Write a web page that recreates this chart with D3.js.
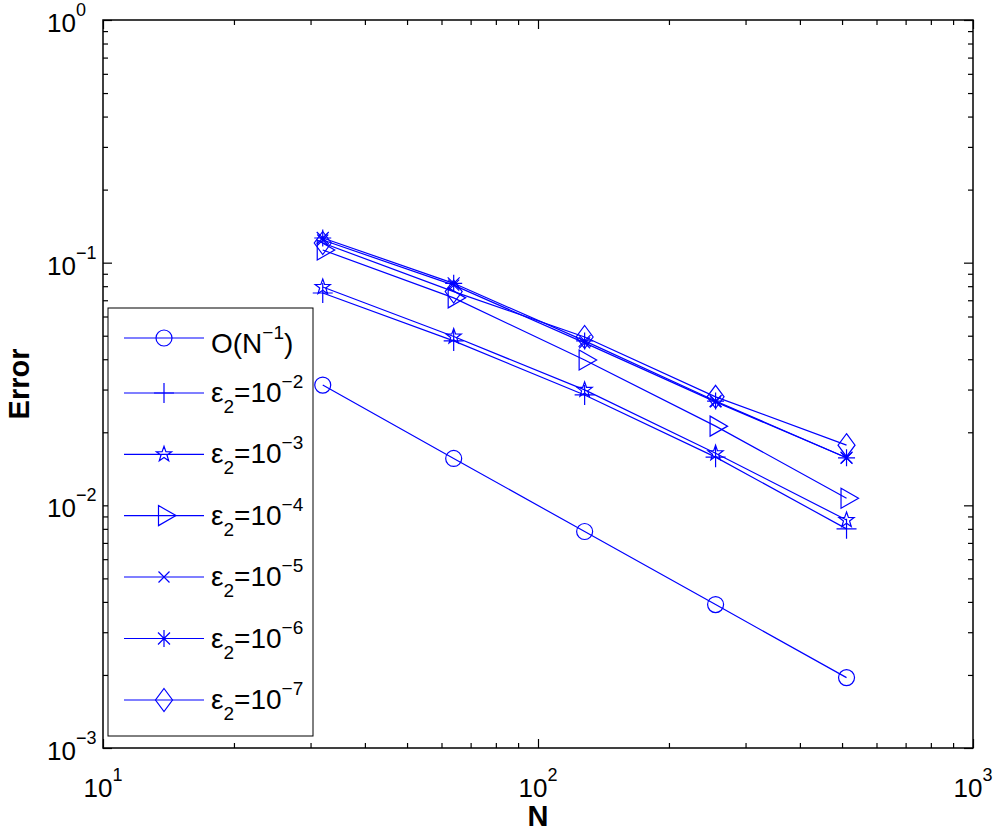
<!DOCTYPE html>
<html><head><meta charset="utf-8">
<script src="https://cdn.jsdelivr.net/npm/d3@7"></script>
<style>body{margin:0;background:#fff}svg{display:block}text{font-family:"Liberation Sans",Arial,Helvetica,sans-serif}</style>
</head><body>
<svg id="c" width="994" height="831"></svg>
<script>
// ---- data ----
const N = [32, 64, 128, 256, 512];
const orderRef = [0.0313, 0.0156, 0.0078, 0.0039, 0.00195];      // O(N^-1)
const eps2_1e2 = [0.0750, 0.0476, 0.0285, 0.0158, 0.0080];
const eps2_1e3 = [0.0794, 0.0496, 0.0299, 0.0164, 0.0087];
const eps2_1e4 = [0.1128, 0.0716, 0.0397, 0.0212, 0.0107];
const eps2_1e5 = [0.1240, 0.0808, 0.0467, 0.0267, 0.0157];
const eps2_1e6 = [0.1264, 0.0822, 0.0476, 0.0269, 0.0157];
const eps2_1e7 = [0.1205, 0.0760, 0.0494, 0.0280, 0.0177];
const seriesNames = ["O(N^-1)", "1e-2", "1e-3", "1e-4", "1e-5", "1e-6", "1e-7"];
const seriesExp = [null, "2", "3", "4", "5", "6", "7"];
const seriesMarkers = ["circle", "plus", "star", "triR", "x", "asterisk", "diamond"];
const seriesValues = [orderRef, eps2_1e2, eps2_1e3, eps2_1e4, eps2_1e5, eps2_1e6, eps2_1e7];
const xDecades = [10, 100, 1000];
const yDecades = [1e-3, 1e-2, 1e-1, 1];

// ---- layout ----
const L = 103, R = 973, T = 20, B = 748;
const blue = "#0000ff";
const svg = d3.select("#c");
const x = d3.scaleLog().domain([10, 1000]).range([L, R]);
const y = d3.scaleLog().domain([1e-3, 1]).range([B, T]);

function minorTicks(dec) {
  const out = [];
  for (let i = 0; i < dec.length - 1; i++) for (let k = 2; k <= 9; k++) out.push(dec[i] * k);
  return out;
}
const xMinor = minorTicks(xDecades), yMinor = minorTicks(yDecades);

function addAxis(gen, tx, ty, vals, size) {
  const g = svg.append("g").attr("transform", `translate(${tx},${ty})`)
    .call(gen.tickValues(vals).tickSizeInner(size).tickSizeOuter(0).tickFormat(""));
  g.select(".domain").remove();
  g.selectAll("line").attr("stroke", "#000").attr("stroke-width", 1.2);
}
// inward ticks on all four sides
addAxis(d3.axisBottom(x), 0, B, xMinor, -5);
addAxis(d3.axisBottom(x), 0, B, xDecades, -9);
addAxis(d3.axisTop(x), 0, T, xMinor, -5);
addAxis(d3.axisTop(x), 0, T, xDecades, -9);
addAxis(d3.axisLeft(y), L, 0, yMinor, -5);
addAxis(d3.axisLeft(y), L, 0, yDecades, -9);
addAxis(d3.axisRight(y), R, 0, yMinor, -5);
addAxis(d3.axisRight(y), R, 0, yDecades, -9);

svg.append("rect").attr("x", L).attr("y", T).attr("width", R - L).attr("height", B - T)
  .attr("fill", "none").attr("stroke", "#000").attr("stroke-width", 1.5);

// tick labels
const fs = 26, sfs = 18, lfs = 28, lsfs = 19, afs = 29;
function expOf(v) { return Math.round(Math.log10(v)); }
function supText(sel, exp) {
  sel.append("tspan").text("10");
  sel.append("tspan").attr("font-size", sfs).attr("dy", -16).text(exp < 0 ? "\u2212" + (-exp) : String(exp));
}
yDecades.forEach(v => {
  const t = svg.append("text").attr("x", 47).attr("y", y(v) + 12).attr("font-size", fs).attr("fill", "#000");
  supText(t, expOf(v));
});
xDecades.forEach(v => {
  const t = svg.append("text").attr("x", x(v)).attr("y", 797).attr("font-size", fs)
    .attr("text-anchor", "middle").attr("fill", "#000");
  supText(t, expOf(v));
});

svg.append("text").attr("x", x(100)).attr("y", 826).attr("text-anchor", "middle")
  .attr("font-size", afs).attr("font-weight", "bold").text("N");
svg.append("text").attr("transform", `translate(29,${(T + B) / 2}) rotate(-90)`)
  .attr("text-anchor", "middle").attr("font-size", afs).attr("font-weight", "bold").text("Error");

// markers
function markerPath(type) {
  const p = d3.path();
  switch (type) {
    case "circle": p.arc(0, 0, 8, 0, 2 * Math.PI); break;
    case "plus": p.moveTo(-10, 0); p.lineTo(10, 0); p.moveTo(0, -10); p.lineTo(0, 10); break;
    case "x": p.moveTo(-5.5, -5.5); p.lineTo(5.5, 5.5); p.moveTo(-5.5, 5.5); p.lineTo(5.5, -5.5); break;
    case "asterisk":
      p.moveTo(-8.5, 0); p.lineTo(8.5, 0); p.moveTo(0, -8.5); p.lineTo(0, 8.5);
      p.moveTo(-6, -6); p.lineTo(6, 6); p.moveTo(-6, 6); p.lineTo(6, -6); break;
    case "diamond": p.moveTo(0, -11.5); p.lineTo(8.5, 0); p.lineTo(0, 11.5); p.lineTo(-8.5, 0); p.closePath(); break;
    case "triR": p.moveTo(-5.5, -10); p.lineTo(12, 0); p.lineTo(-5.5, 10); p.closePath(); break;
    case "star": {
      const Ro = 8, Ri = 3.2;
      for (let i = 0; i < 10; i++) {
        const r = i % 2 === 0 ? Ro : Ri, a = -Math.PI / 2 + i * Math.PI / 5;
        const px = r * Math.cos(a), py = r * Math.sin(a);
        if (i === 0) p.moveTo(px, py); else p.lineTo(px, py);
      }
      p.closePath(); break;
    }
  }
  return p.toString();
}

const line = d3.line().x(d => x(d[0])).y(d => y(d[1]));
const plot = svg.append("g");
seriesValues.forEach((vals, i) => {
  const pts = N.map((n, j) => [n, vals[j]]);
  plot.append("path").attr("d", line(pts)).attr("fill", "none").attr("stroke", blue).attr("stroke-width", 1.2);
  plot.selectAll(null).data(pts).enter().append("path")
    .attr("transform", d => `translate(${x(d[0])},${y(d[1])})`)
    .attr("d", markerPath(seriesMarkers[i])).attr("fill", "none").attr("stroke", blue).attr("stroke-width", 1.2);
});

// legend
const lg = svg.append("g");
lg.append("rect").attr("x", 108).attr("y", 308).attr("width", 205).attr("height", 428)
  .attr("fill", "#fff").attr("stroke", "#000").attr("stroke-width", 1);
const rowY = [338, 393, 454.3, 515.6, 577, 638.5, 700];
seriesNames.forEach((nm, i) => {
  const yy = rowY[i];
  lg.append("line").attr("x1", 124).attr("x2", 204).attr("y1", yy).attr("y2", yy)
    .attr("stroke", blue).attr("stroke-width", 1.2);
  lg.append("path").attr("transform", `translate(164,${yy})`).attr("d", markerPath(seriesMarkers[i]))
    .attr("fill", "none").attr("stroke", blue).attr("stroke-width", 1.2);
  const t = lg.append("text").attr("x", 211).attr("font-size", lfs).attr("fill", "#000");
  if (i === 0) {
    t.attr("y", yy + 15);
    t.append("tspan").text("O(N");
    t.append("tspan").attr("font-size", lsfs).attr("dy", -14).text("\u22121");
    t.append("tspan").attr("dy", 14).text(")");
  } else {
    t.attr("y", yy + 9);
    t.append("tspan").text("\u03b5");
    t.append("tspan").attr("font-size", lsfs).attr("dy", 11).text("2");
    t.append("tspan").attr("dy", -11).text("=10");
    t.append("tspan").attr("font-size", lsfs).attr("dy", -14).text("\u2212" + seriesExp[i]);
  }
});
</script>
</body></html>
